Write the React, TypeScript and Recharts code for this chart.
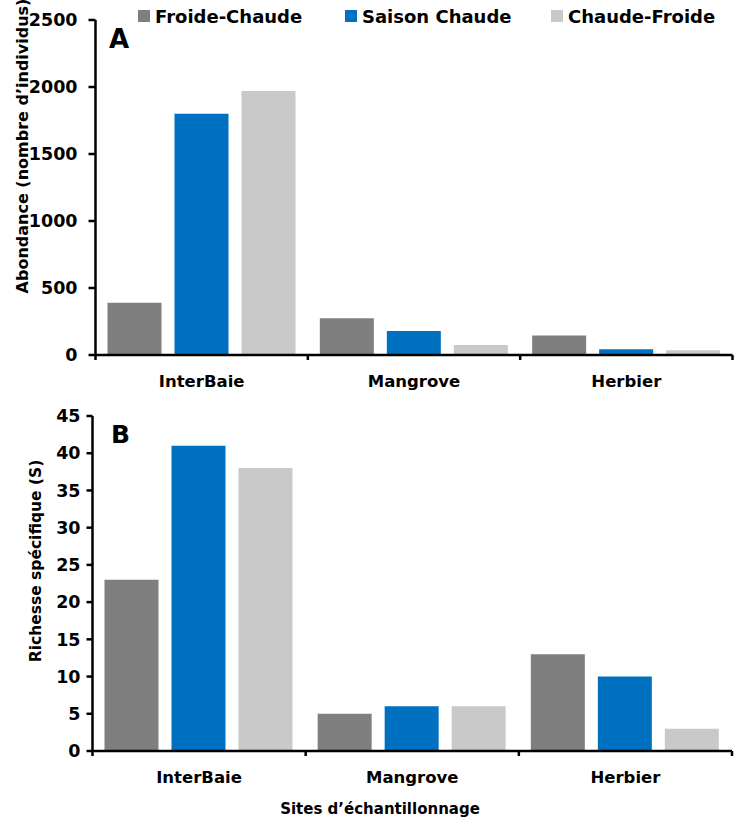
import React from 'react';
import { BarChart, Bar, XAxis, YAxis } from 'recharts';

const categories = ['InterBaie', 'Mangrove', 'Herbier'];
const seriesNames = ['Froide-Chaude', 'Saison Chaude', 'Chaude-Froide'];
const seriesColors = ['#7F7F7F', '#0070C0', '#C9C9C9'];

const abondanceFC = [390, 275, 145];
const abondanceSC = [1800, 180, 42];
const abondanceCF = [1970, 75, 36];
const abondanceTicks = [0, 500, 1000, 1500, 2000, 2500];

const richesseFC = [23, 5, 13];
const richesseSC = [41, 6, 10];
const richesseCF = [38, 6, 3];
const richesseTicks = [0, 5, 10, 15, 20, 25, 30, 35, 40, 45];

const FONT = '"DejaVu Sans", sans-serif';

const dataA = categories.map((site, i) => ({
  site,
  fc: abondanceFC[i],
  sc: abondanceSC[i],
  cf: abondanceCF[i],
}));
const dataB = categories.map((site, i) => ({
  site,
  fc: richesseFC[i],
  sc: richesseSC[i],
  cf: richesseCF[i],
}));

const makeCatTick = (band: number) => (props: any) => {
  const { x, y, payload, index } = props;
  return (
    <g>
      <line x1={x - band / 2} x2={x - band / 2} y1={y} y2={y + 5} stroke="#000" strokeWidth={2.5} />
      {index === categories.length - 1 && (
        <line x1={x + band / 2} x2={x + band / 2} y1={y} y2={y + 5} stroke="#000" strokeWidth={2.5} />
      )}
      <text x={x} y={y + 32} textAnchor="middle" fill="#000" fontFamily={FONT} fontWeight="bold" fontSize={16.5}>
        {payload.value}
      </text>
    </g>
  );
};

const W = 734;

export default function App() {
  const axisStyle = { stroke: '#000', strokeWidth: 2.5 };
  const tickStyle = { fill: '#000', fontSize: 17.5, fontWeight: 'bold', fontFamily: FONT } as any;

  const aLeft = 95.5;
  const aRight = 1.5;
  const bandA = (W - aLeft - aRight) / categories.length;
  const bLeft = 92.5;
  const bRight = 2;
  const bandB = (W - bLeft - bRight) / categories.length;

  return (
    <div style={{ position: 'absolute', left: 0, top: 0, width: W, height: 822, background: '#fff' }}>
      <div style={{ position: 'absolute', left: 0, top: 0 }}>
        <BarChart
          width={W}
          height={400}
          data={dataA}
          margin={{ top: 20, right: aRight, bottom: 5, left: 0 }}
          barCategoryGap={12}
          barGap={13}
        >
          <XAxis
            dataKey="site"
            axisLine={axisStyle}
            tickLine={false}
            tickSize={0}
            tickMargin={0}
            height={40}
            interval={0}
            tick={makeCatTick(bandA)}
          />
          <YAxis
            type="number"
            domain={[0, 2500]}
            ticks={abondanceTicks}
            interval={0}
            width={aLeft}
            axisLine={axisStyle}
            tickLine={{ stroke: '#000', strokeWidth: 2.5 }}
            tickSize={7}
            tickMargin={11}
            tick={tickStyle}
          />
          <Bar dataKey="fc" name={seriesNames[0]} fill={seriesColors[0]} isAnimationActive={false} />
          <Bar dataKey="sc" name={seriesNames[1]} fill={seriesColors[1]} isAnimationActive={false} />
          <Bar dataKey="cf" name={seriesNames[2]} fill={seriesColors[2]} isAnimationActive={false} />
        </BarChart>
      </div>
      <div style={{ position: 'absolute', left: 0, top: 400 }}>
        <BarChart
          width={W}
          height={422}
          data={dataB}
          margin={{ top: 16, right: bRight, bottom: 31, left: 0 }}
          barCategoryGap={12}
          barGap={13}
        >
          <XAxis
            dataKey="site"
            axisLine={axisStyle}
            tickLine={false}
            tickSize={0}
            tickMargin={0}
            height={40}
            interval={0}
            tick={makeCatTick(bandB)}
          />
          <YAxis
            type="number"
            domain={[0, 45]}
            ticks={richesseTicks}
            interval={0}
            width={bLeft}
            axisLine={axisStyle}
            tickLine={{ stroke: '#000', strokeWidth: 2.5 }}
            tickSize={6}
            tickMargin={6}
            tick={tickStyle}
          />
          <Bar dataKey="fc" name={seriesNames[0]} fill={seriesColors[0]} isAnimationActive={false} />
          <Bar dataKey="sc" name={seriesNames[1]} fill={seriesColors[1]} isAnimationActive={false} />
          <Bar dataKey="cf" name={seriesNames[2]} fill={seriesColors[2]} isAnimationActive={false} />
        </BarChart>
      </div>
      <svg
        width={W}
        height={822}
        style={{ position: 'absolute', left: 0, top: 0, pointerEvents: 'none' }}
      >
        {seriesNames.map((name, i) => {
          const lx = [138, 345, 551][i];
          return (
            <g key={name}>
              <rect x={lx} y={10} width={12} height={12} fill={seriesColors[i]} />
              <text x={lx + 17} y={22.5} fill="#000" fontFamily={FONT} fontWeight="bold" fontSize={18}>
                {name}
              </text>
            </g>
          );
        })}
        <text x={109} y={48} fill="#000" fontFamily={FONT} fontWeight="bold" fontSize={26}>A</text>
        <text x={111} y={443} fill="#000" fontFamily={FONT} fontWeight="bold" fontSize={25}>B</text>
        <text
          x={0}
          y={0}
          transform="translate(28,146) rotate(-90)"
          textAnchor="middle"
          fill="#000"
          fontFamily={FONT}
          fontWeight="bold"
          fontSize={16}
        >
          Abondance (nombre d’individus)
        </text>
        <text
          x={0}
          y={0}
          transform="translate(41,561) rotate(-90)"
          textAnchor="middle"
          fill="#000"
          fontFamily={FONT}
          fontWeight="bold"
          fontSize={15.5}
        >
          Richesse spécifique (S)
        </text>
        <text x={380} y={814} textAnchor="middle" fill="#000" fontFamily={FONT} fontWeight="bold" fontSize={15}>
          Sites d’échantillonnage
        </text>
      </svg>
    </div>
  );
}
